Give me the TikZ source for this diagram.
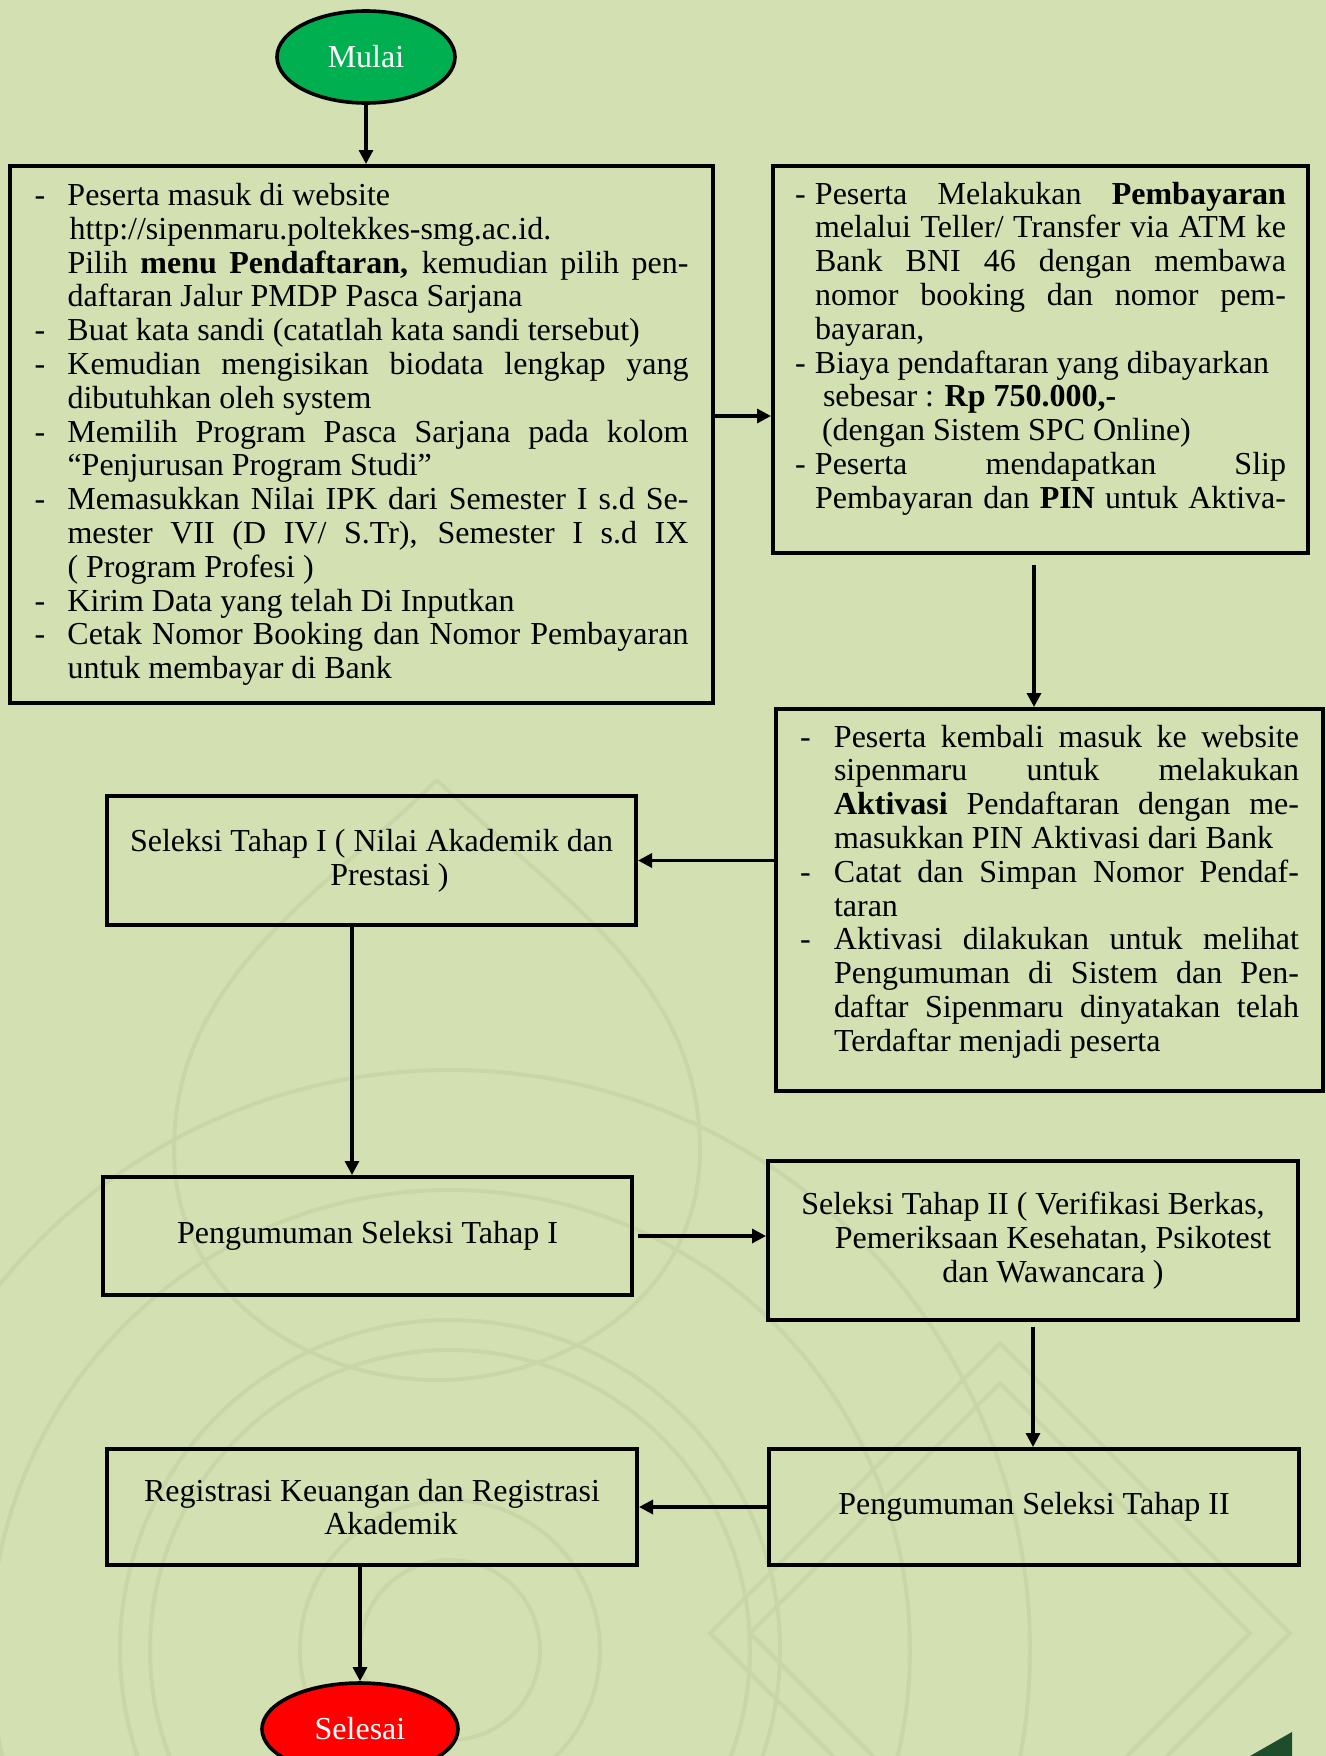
\documentclass[tikz,border=0pt]{standalone}
\usepackage{fontspec}
\setmainfont{Liberation Serif}
\usetikzlibrary{positioning,arrows.meta,shapes.geometric}

\definecolor{latar}{HTML}{D3E0B2}
\definecolor{ornamen}{HTML}{C8D6A8}
\definecolor{hijau}{HTML}{00B050}
\definecolor{merah}{HTML}{FF0000}
\definecolor{hijautua}{HTML}{1E4D2B}

\newcommand{\teksfont}{\fontsize{16pt}{16.9pt}\selectfont}
\newlength{\dw}
% baris rata kiri-kanan
\newcommand{\jl}[1]{\makebox[\dimexpr\linewidth-\dw\relax][s]{#1}}
% butir dengan tanda -
\newcommand{\itm}[2][16.5pt]{\par\setlength{\dw}{#1}\hangindent=\dw\hangafter=1\noindent\makebox[\dw][l]{-}#2\par}

\begin{document}
\begin{tikzpicture}[%
x=0.5pt,y=-0.5pt,
kotak/.style={draw,rectangle,line width=2pt,font=\teksfont},
terminal/.style={ellipse,draw,line width=1.8pt,text=white,font=\teksfont,
  minimum width=89pt,minimum height=46pt},
panah/.style={-{Triangle[length=7pt,width=7pt]},line width=1.6pt}]
\useasboundingbox (0,0) rectangle (1326,1756);
\fill [latar] (0,0) rectangle (1326,1756);
% hiasan latar
\begin{scope}[draw=ornamen,line width=2pt]
\clip (0,0) rectangle (1326,1756);
\draw (450,1650) circle [radius=45pt] (450,1650) circle [radius=75pt]
      (450,1650) circle [radius=150pt] (450,1650) circle [radius=165pt]
      (450,1650) circle [radius=230pt] (450,1650) circle [radius=290pt];
\draw (437,780) .. controls (560,900) and (700,980) .. (700,1150)
      .. controls (700,1300) and (560,1380) .. (437,1380)
      .. controls (314,1380) and (174,1300) .. (174,1150)
      .. controls (174,980) and (314,900) .. (437,780);
\draw (1290,1633) -- (1000,1343) -- (710,1633) -- (1000,1923) -- cycle
      (1250,1633) -- (1000,1383) -- (750,1633) -- (1000,1883) -- cycle;
\end{scope}
\fill [hijautua] (1292,1732) -- (1292,1756) -- (1250,1756) -- cycle;

\node [terminal,fill=hijau] (mulai) at (366,57) {Mulai};
\node [kotak,minimum width=351.5pt,minimum height=268.5pt] (daftar) at (361.5,434.5) {%
\begin{minipage}{327pt}
\itm{Peserta masuk di website\\
\hspace*{1pt}http://sipenmaru.poltekkes-smg.ac.id.\\
\jl{Pilih \textbf{menu Pendaftaran,} kemudian pilih pen-}\\
daftaran Jalur PMDP Pasca Sarjana}
\itm{Buat kata sandi (catatlah kata sandi tersebut)}
\itm{\jl{Kemudian mengisikan biodata lengkap yang}\\
dibutuhkan oleh system}
\itm{\jl{Memilih Program Pasca Sarjana pada kolom}\\
“Penjurusan Program Studi”}
\itm{\jl{Memasukkan Nilai IPK dari Semester I s.d Se-}\\
\jl{mester VII (D IV/ S.Tr), Semester I s.d IX}\\
( Program Profesi )}
\itm{Kirim Data yang telah Di Inputkan}
\itm{\jl{Cetak Nomor Booking dan Nomor Pembayaran}\\
untuk membayar di Bank}
\end{minipage}};
\node [kotak,minimum width=267.5pt,minimum height=193.5pt] (bayar) at (1040.5,359.5) {%
\begin{minipage}{245.5pt}
\itm[10pt]{\jl{Peserta Melakukan \textbf{Pembayaran}}\\
\jl{melalui Teller/ Transfer via ATM ke}\\
\jl{Bank BNI 46 dengan membawa}\\
\jl{nomor booking dan nomor pem-}\\
bayaran,}
\itm[10pt]{Biaya pendaftaran yang dibayarkan\\
\hspace*{4pt}sebesar : \textbf{Rp 750.000,-}\\
\hspace*{3.5pt}(dengan Sistem SPC Online)}
\itm[10pt]{\jl{Peserta mendapatkan Slip}\\
\jl{Pembayaran dan \textbf{PIN} untuk Aktiva-}}
\par\vspace*{11pt}
\end{minipage}};
\node [kotak,minimum width=273.5pt,minimum height=191pt] (aktivasi) at (1049.5,900) {%
\begin{minipage}{249.5pt}
\itm[17pt]{\jl{Peserta kembali masuk ke website}\\
\jl{sipenmaru untuk melakukan}\\
\jl{\textbf{Aktivasi} Pendaftaran dengan me-}\\
masukkan PIN Aktivasi dari Bank}
\itm[17pt]{\jl{Catat dan Simpan Nomor Pendaf-}\\
taran}
\itm[17pt]{\jl{Aktivasi dilakukan untuk melihat}\\
\jl{Pengumuman di Sistem dan Pen-}\\
\jl{daftar Sipenmaru dinyatakan telah}\\
Terdaftar menjadi peserta}
\par\vspace*{8.5pt}
\end{minipage}};
\node [kotak,align=center,minimum width=264.5pt,minimum height=64.5pt] (tahap1) at (371.5,860.5)
  {Seleksi Tahap I ( Nilai Akademik dan\\ \hspace*{18pt}Prestasi )};
\node [kotak,align=center,minimum width=264.5pt,minimum height=59pt] (umum1) at (367.5,1236)
  {Pengumuman Seleksi Tahap I};
\node [kotak,align=center,minimum width=265pt,minimum height=79.5pt] (tahap2) at (1033,1240.5)
  {Seleksi Tahap II ( Verifikasi Berkas,\\ \hspace*{20pt}Pemeriksaan Kesehatan, Psikotest\\ \hspace*{20pt}dan Wawancara )};
\node [kotak,align=center,minimum width=265pt,minimum height=58pt] (umum2) at (1034,1507)
  {Pengumuman Seleksi Tahap II};
\node [kotak,align=center,minimum width=265pt,minimum height=58pt] (regis) at (372,1507)
  {Registrasi Keuangan dan Registrasi\\ \hspace*{19pt}Akademik};
\node [terminal,fill=merah,minimum width=98pt] (selesai) at (360,1729) {Selesai};

\draw [panah] (mulai) -- (mulai |- daftar.north);
\coordinate (k1) at ([yshift=9.25pt]daftar.east);
\draw [panah] (k1) -- (k1 -| bayar.west);
\coordinate (k2) at ([xshift=-3.25pt,yshift=-5pt]bayar.south);
\draw [panah] (k2) -- (k2 |- aktivasi.north);
\draw [panah] (aktivasi.west |- tahap1) -- (tahap1.east);
\coordinate (k3) at ([xshift=-9.75pt,yshift=2pt]tahap1.south);
\draw [panah] (k3) -- (k3 |- umum1.north);
\draw [panah] ([xshift=2pt]umum1.east) -- (umum1.east -| tahap2.west);
\draw [panah] ([yshift=-2.5pt]tahap2.south) -- (tahap2.south |- umum2.north);
\draw [panah] (umum2) -- (regis);
\draw [panah] (selesai.north |- regis.south) -- (selesai.north);
\end{tikzpicture}
\end{document}
